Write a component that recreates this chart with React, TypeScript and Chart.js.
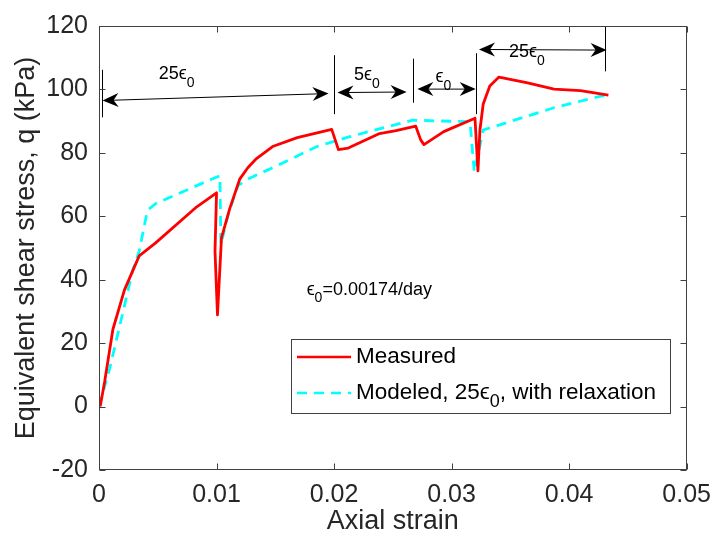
import React, { useEffect, useRef } from 'react';
import { Chart, registerables } from 'chart.js';

Chart.register(...registerables);

const FONT = '"Liberation Sans", Arial, sans-serif';

// Measured curve (axial strain, q in kPa)
const measuredStrain = [
  0.0001, 0.00048, 0.00118, 0.00216, 0.00342, 0.00482, 0.00832, 0.0100, 0.00987, 0.01008,
  0.01042, 0.01113, 0.01197, 0.01266, 0.01334, 0.01477, 0.01687, 0.0198, 0.02037, 0.02121,
  0.02387, 0.02527, 0.02695, 0.02737, 0.02765, 0.02933, 0.03199, 0.03224, 0.03241, 0.03269,
  0.03325, 0.03403, 0.03647, 0.03871, 0.04096, 0.04334,
];
const measuredStress = [
  0, 7.8, 24.3, 36.7, 47.5, 51.6, 63.0, 67.4, 49.0, 28.9,
  53.2, 62.5, 71.7, 75.3, 78.0, 82.0, 84.8, 87.4, 81.0, 81.5,
  86.1, 87.0, 88.4, 84.1, 82.6, 86.7, 90.9, 74.3, 87.2, 95.4,
  101.1, 103.9, 102.1, 100.1, 99.6, 98.2,
];

// Modeled curve
const modeledStrain = [
  0, 0.0009, 0.00202, 0.00286, 0.00342, 0.00412, 0.00482, 0.00846, 0.01029, 0.01037,
  0.01098, 0.01182, 0.01266, 0.01544, 0.01855, 0.02134, 0.02667, 0.03157, 0.03193, 0.03269,
  0.03886, 0.04350,
];
const modeledStress = [
  0.1, 11.9, 29.5, 42.9, 49.0, 61.9, 64.0, 69.9, 72.8, 51.1,
  60.4, 69.7, 71.7, 76.5, 82.0, 85.1, 90.3, 89.8, 74.0, 87.2,
  94.4, 98.6,
];

const seriesLabels = ['Measured', 'Modeled, 25ϵ_0, with relaxation'];
const xTicks = [0, 0.01, 0.02, 0.03, 0.04, 0.05];
const yTicks = [-20, 0, 20, 40, 60, 80, 100, 120];

// Strain-rate stage annotations (data coordinates)
const dimLineStrain = [0.00025, 0.0200, 0.02672, 0.03205, 0.04306];
const dimLineTop = [106.2, 110.8, 109.7, 111.4, 120];
const dimLineBottom = [91.2, 92.2, 95.8, 92.2, 105.7];
const arrowFromStrain = [0.00030, 0.02029, 0.02709, 0.03233];
const arrowToStrain = [0.01953, 0.02617, 0.03205, 0.04319];
const arrowFromStress = [96.5, 99.0, 100.1, 112.6];
const arrowToStress = [98.7, 99.2, 100.1, 112.4];
const stageLabels = ['25ϵ_0', '5ϵ_0', 'ϵ_0', '25ϵ_0'];
const stageLabelStrain = [0.0066, 0.0228, 0.0293, 0.0364];
const stageLabelStress = [104.9, 104.5, 103.9, 111.8];
const rateNote = 'ϵ_0=0.00174/day';
const rateNoteStrain = 0.0230;
const rateNoteStress = 36.7;

function drawRich(ctx: CanvasRenderingContext2D, text: string, x: number, y: number, size: number, align: string, subDrop = 0.48) {
  const parts = text.split(/_(.)/);
  const fMain = `${size}px ${FONT}`;
  const fSub = `${Math.round(size * 0.78)}px ${FONT}`;
  let w = 0;
  parts.forEach((p, i) => {
    ctx.font = i % 2 ? fSub : fMain;
    w += ctx.measureText(p).width;
  });
  let cx = align === 'center' ? x - w / 2 : align === 'right' ? x - w : x;
  ctx.textAlign = 'left';
  ctx.textBaseline = 'middle';
  parts.forEach((p, i) => {
    ctx.font = i % 2 ? fSub : fMain;
    ctx.fillText(p, cx, i % 2 ? y + size * subDrop : y);
    cx += ctx.measureText(p).width;
  });
}

function arrowHead(ctx: CanvasRenderingContext2D, tx: number, ty: number, ux: number, uy: number) {
  const L = 16, W = 14, N = 11;
  const nx = -uy, ny = ux;
  const bx = tx - ux * L, by = ty - uy * L;
  ctx.beginPath();
  ctx.moveTo(tx, ty);
  ctx.lineTo(bx + nx * W / 2, by + ny * W / 2);
  ctx.lineTo(tx - ux * N, ty - uy * N);
  ctx.lineTo(bx - nx * W / 2, by - ny * W / 2);
  ctx.closePath();
  ctx.fill();
}

const annotationPlugin = {
  id: 'stageAnnotations',
  afterDatasetsDraw(chart: any) {
    const { ctx, scales } = chart;
    const xs = scales.x, ys = scales.y;
    ctx.save();
    ctx.strokeStyle = '#000';
    ctx.fillStyle = '#000';
    ctx.lineWidth = 1;
    dimLineStrain.forEach((s, i) => {
      const px = Math.round(xs.getPixelForValue(s)) + 0.5;
      ctx.beginPath();
      ctx.moveTo(px, ys.getPixelForValue(dimLineTop[i]));
      ctx.lineTo(px, ys.getPixelForValue(dimLineBottom[i]));
      ctx.stroke();
    });
    arrowFromStrain.forEach((s, i) => {
      const x1 = xs.getPixelForValue(s), y1 = ys.getPixelForValue(arrowFromStress[i]);
      const x2 = xs.getPixelForValue(arrowToStrain[i]), y2 = ys.getPixelForValue(arrowToStress[i]);
      const len = Math.hypot(x2 - x1, y2 - y1);
      const ux = (x2 - x1) / len, uy = (y2 - y1) / len;
      ctx.beginPath();
      ctx.moveTo(x1 + ux * 8, y1 + uy * 8);
      ctx.lineTo(x2 - ux * 8, y2 - uy * 8);
      ctx.stroke();
      arrowHead(ctx, x2, y2, ux, uy);
      arrowHead(ctx, x1, y1, -ux, -uy);
    });
    ctx.fillStyle = '#000';
    stageLabels.forEach((t, i) => {
      drawRich(ctx, t, xs.getPixelForValue(stageLabelStrain[i]), ys.getPixelForValue(stageLabelStress[i]), 18, 'center', 0.5);
    });
    drawRich(ctx, rateNote, xs.getPixelForValue(rateNoteStrain), ys.getPixelForValue(rateNoteStress), 18, 'center', 0.45);
    ctx.restore();
  },
  afterDraw(chart: any) {
    const { ctx, chartArea: a, scales } = chart;
    const xs = scales.x, ys = scales.y;
    ctx.save();
    // frame
    ctx.strokeStyle = '#404040';
    ctx.lineWidth = 1;
    const L = Math.round(a.left) + 0.5, R = Math.round(a.right) - 0.5;
    const T = Math.round(a.top) + 0.5, B = Math.round(a.bottom) - 0.5;
    ctx.strokeRect(L, T, R - L, B - T);
    // inward ticks
    const tl = 6;
    ctx.beginPath();
    xTicks.forEach((v) => {
      const px = Math.round(xs.getPixelForValue(v)) + 0.5;
      ctx.moveTo(px, B); ctx.lineTo(px, B - tl);
      ctx.moveTo(px, T); ctx.lineTo(px, T + tl);
    });
    yTicks.forEach((v) => {
      const py = Math.round(ys.getPixelForValue(v)) + 0.5;
      ctx.moveTo(L, py); ctx.lineTo(L + tl, py);
      ctx.moveTo(R, py); ctx.lineTo(R - tl, py);
    });
    ctx.stroke();

    // legend
    const bx = 291, by = 339, bw = 379, bh = 74;
    ctx.fillStyle = '#fff';
    ctx.fillRect(bx, by, bw, bh);
    ctx.strokeStyle = '#404040';
    ctx.strokeRect(bx + 0.5, by + 0.5, bw, bh);
    const rows = [357, 393];
    const colors = ['#ff0000', '#00ffff'];
    rows.forEach((ry, i) => {
      ctx.strokeStyle = colors[i];
      ctx.lineWidth = 2.5;
      ctx.setLineDash(i === 1 ? [10, 7] : []);
      ctx.beginPath();
      ctx.moveTo(297, ry);
      ctx.lineTo(351, ry);
      ctx.stroke();
      ctx.setLineDash([]);
      ctx.fillStyle = '#000';
      drawRich(ctx, seriesLabels[i], 356, ry, 22.5, 'left', 0.42);
    });
    ctx.restore();
  },
};

export default function App() {
  const ref = useRef<HTMLCanvasElement | null>(null);
  useEffect(() => {
    document.body.style.margin = '0';
    const canvas = ref.current;
    if (!canvas) return;
    const chart = new Chart(canvas, {
      type: 'line',
      data: {
        datasets: [
          {
            label: seriesLabels[0],
            data: measuredStrain.map((x, i) => ({ x, y: measuredStress[i] })),
            borderColor: '#ff0000',
            borderWidth: 2.8,
            pointRadius: 0,
            tension: 0,
            fill: false,
            borderJoinStyle: 'round',
          },
          {
            label: seriesLabels[1],
            data: modeledStrain.map((x, i) => ({ x, y: modeledStress[i] })),
            borderColor: '#00ffff',
            borderWidth: 2.8,
            borderDash: [10, 7],
            pointRadius: 0,
            tension: 0,
            fill: false,
          },
        ],
      },
      options: {
        responsive: false,
        animation: false,
        devicePixelRatio: 1,
        layout: { padding: { top: 17, right: 27, left: 0, bottom: 0 } },
        plugins: { legend: { display: false }, tooltip: { enabled: false } },
        scales: {
          x: {
            type: 'linear',
            min: 0,
            max: 0.05,
            afterBuildTicks: (s: any) => { s.ticks = xTicks.map((v) => ({ value: v })); },
            afterFit: (s: any) => { s.height = 76; },
            grid: { display: false, drawTicks: false },
            border: { display: false },
            ticks: {
              autoSkip: false,
              maxRotation: 0,
              padding: 10,
              color: '#262626',
              font: { family: FONT, size: 25 },
              callback: (v: any) => String(v),
            },
            title: {
              display: true,
              text: 'Axial strain',
              color: '#262626',
              font: { family: FONT, size: 27 },
              padding: { top: 0, bottom: 8 },
            },
          },
          y: {
            type: 'linear',
            min: -20,
            max: 120,
            afterBuildTicks: (s: any) => { s.ticks = yTicks.map((v) => ({ value: v })); },
            afterFit: (s: any) => { s.width = 99; },
            grid: { display: false, drawTicks: false },
            border: { display: false },
            ticks: {
              autoSkip: false,
              padding: 11,
              color: '#262626',
              font: { family: FONT, size: 25 },
              callback: (v: any) => String(v),
            },
            title: {
              display: true,
              text: 'Equivalent shear stress, q (kPa)',
              color: '#262626',
              font: { family: FONT, size: 27 },
              padding: { top: 10, bottom: 0 },
            },
          },
        },
      },
      plugins: [annotationPlugin],
    });
    return () => chart.destroy();
  }, []);
  return (
    <div style={{ width: 721, height: 546 }}>
      <canvas ref={ref} width={721} height={546} style={{ display: 'block' }} />
    </div>
  );
}
